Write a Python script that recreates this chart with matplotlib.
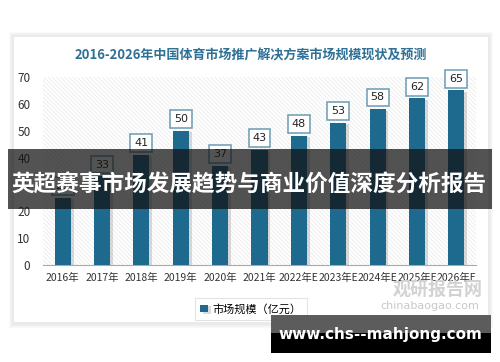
import matplotlib.pyplot as plt
from matplotlib.patches import Rectangle
from matplotlib import patheffects as pe

plt.rcParams['font.family'] = ['Noto Sans CJK SC', 'DejaVu Sans']
plt.rcParams['hatch.linewidth'] = 0.5

years = ['2016年', '2017年', '2018年', '2019年', '2020年', '2021年',
         '2022年E', '2023年E', '2024年E', '2025年E', '2026年E']
values = [25, 33, 41, 50, 37, 43, 48, 53, 58, 62, 65]
title = '2016-2026年中国体育市场推广解决方案市场规模现状及预测'
legend_label = '市场规模（亿元）'
banner = '英超赛事市场发展趋势与商业价值深度分析报告'
site = 'www.chs--mahjong.com'

W, H = 500, 362
fig = plt.figure(figsize=(W / 100, H / 100), dpi=100)
fig.patch.set_facecolor('white')

def px(x0, y0, x1, y1):
    # pixel box (top-left origin) -> figure fraction
    return x0 / W, 1 - y1 / H, (x1 - x0) / W, (y1 - y0) / H

# card with shadow
for i in range(4):
    x, y, w, h = px(14 - 2 - i, 37 - 2 - i, 488 + 2 + i, 322 + 3 + i)
    fig.patches.append(Rectangle((x, y), w, h, transform=fig.transFigure,
                                 facecolor='#999999', alpha=0.05, edgecolor='none', zorder=-2))
x, y, w, h = px(14, 37, 488, 322)
fig.patches.append(Rectangle((x, y), w, h, transform=fig.transFigure,
                             facecolor='white', edgecolor='none', zorder=-1))

fig.text(251 / W, 1 - 55 / H, title, ha='center', va='center', fontsize=9.4,
         fontweight='bold', color='#2f7196')

ax = fig.add_axes([43 / W, 97 / H, 433 / W, 188 / H])
ax.set_facecolor('white')
ax.add_patch(Rectangle((0, 0), 1, 1, transform=ax.transAxes, facecolor='white',
                       edgecolor='#e8e8e8', hatch='\\\\\\\\\\\\\\\\', linewidth=0, zorder=0))

xs = range(len(years))
bars = ax.bar(xs, values, width=0.41, color='#1d6a8e', zorder=3)
for b in bars:
    b.set_path_effects([pe.SimplePatchShadow(offset=(2, -1), shadow_rgbFace='#888888', alpha=0.3),
                        pe.Normal()])
for xi, v in zip(xs, values):
    ax.text(xi, v + 4.4, str(v), ha='center', va='center', fontsize=8, color='#222222',
            zorder=5, family='DejaVu Sans',
            bbox=dict(boxstyle='square,pad=0.35', facecolor='white', edgecolor='#6b9bb3', linewidth=1.1))

ax.set_xlim(-0.5, len(years) - 0.5)
ax.set_ylim(0, 70)
ax.set_yticks(range(0, 71, 10))
ax.set_xticks(list(xs))
ax.set_xticklabels(years)
ax.tick_params(length=0, labelsize=7.5, colors='#333333', pad=6)
ax.tick_params(axis='y', pad=9, labelsize=8.5)
for s in ['top', 'right', 'left']:
    ax.spines[s].set_visible(False)
ax.spines['bottom'].set_color('#aaaaaa')

leg = fig.legend([bars], [legend_label], loc='center', bbox_to_anchor=(251 / W, 1 - 309 / H),
                 fontsize=8, frameon=True, fancybox=False, handlelength=0.7, handleheight=0.7,
                 borderpad=0.5, handletextpad=0.4)
leg.get_frame().set_edgecolor('#dddddd')
leg.get_frame().set_linewidth(0.8)

# chinabaogao watermark
fig.text(438 / W, 1 - 289 / H, '观研报告网', ha='center', va='center', fontsize=13,
         fontweight='bold', color='#d2d2d2', zorder=6)
fig.text(430 / W, 1 - 306 / H, 'chinabaogao.com', ha='center', va='center', fontsize=8,
         color='#c8c8c8', zorder=6, family='DejaVu Sans')

# banner overlay
x, y, w, h = px(8, 149, 492, 209)
fig.patches.append(Rectangle((x, y), w, h, transform=fig.transFigure,
                             facecolor='#111111', alpha=0.72, edgecolor='none', zorder=10))
fig.text(249 / W, 1 - 184 / H, banner, ha='center', va='center', fontsize=16.3,
         fontweight='bold', color='white', zorder=11)

# site watermark
x, y, w, h = px(271, 315, 491, 333)
fig.patches.append(Rectangle((x, y), w, h, transform=fig.transFigure,
                             facecolor='#5c5c5c', edgecolor='none', zorder=10))
x, y, w, h = px(271, 333, 491, 353)
fig.patches.append(Rectangle((x, y), w, h, transform=fig.transFigure,
                             facecolor='black', edgecolor='none', zorder=10))
fig.text(380 / W, 1 - 335 / H, site, ha='center', va='center', fontsize=11,
         fontweight='bold', color='white', zorder=11, family='DejaVu Sans')

fig.savefig('out.png', dpi=100)
